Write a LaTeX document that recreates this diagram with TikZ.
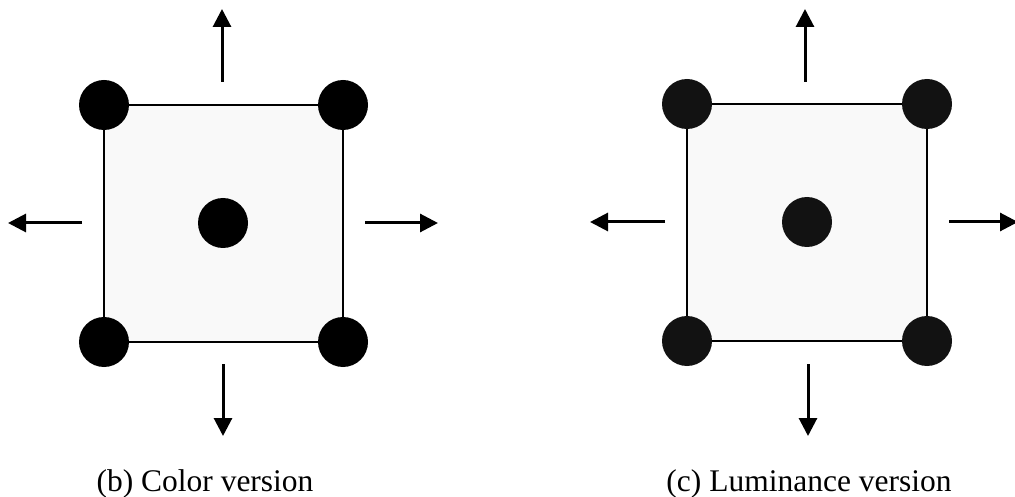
\documentclass[tikz,border=0pt]{standalone}
\usepackage{fontspec}
\setmainfont{Liberation Serif}
\usetikzlibrary{arrows.meta}
\begin{document}
\begin{tikzpicture}[x=1pt,y=-1pt,
  dot/.style={circle,inner sep=0pt,minimum size=50pt,fill=#1},
  frame/.style={line width=2.8pt,fill=black!2.5},
  push/.style={line width=3pt,-{Triangle[length=18pt,width=18pt]}},
  caption/.style={font=\fontsize{31.5}{36}\selectfont,anchor=base}]
\useasboundingbox (0,0) rectangle (1015,497);

% left panel: colour version
\coordinate (btl) at (104,105);
\coordinate (btr) at (343,105);
\coordinate (bbl) at (104,342);
\coordinate (bbr) at (343,342);
\draw[frame] (btl) -- (btr) -- (bbr) -- (bbl) -- cycle;
\node[dot=black] (b1) at (btl) {};
\node[dot=black] (b2) at (btr) {};
\node[dot=black] (b3) at (bbl) {};
\node[dot=black] (b4) at (bbr) {};
\node[dot=black] (bc) at (223,223) {};
\coordinate (bu0) at (222,82);  \coordinate (bu1) at (222,9);
\coordinate (bl0) at (82,223);  \coordinate (bl1) at (8,223);
\coordinate (br0) at (365,223); \coordinate (br1) at (438,223);
\coordinate (bd0) at (223,364); \coordinate (bd1) at (223,436);
\draw[push] (bu0) -- (bu1);
\draw[push] (bl0) -- (bl1);
\draw[push] (br0) -- (br1);
\draw[push] (bd0) -- (bd1);
\node[caption] (bcap) at (205,491) {(b) Color version};

% right panel: luminance version
\coordinate (ctl) at (687,104);
\coordinate (ctr) at (927,104);
\coordinate (cbl) at (687,341);
\coordinate (cbr) at (927,341);
\draw[frame] (ctl) -- (ctr) -- (cbr) -- (cbl) -- cycle;
\node[dot=black!93] (c1) at (ctl) {};
\node[dot=black!93] (c2) at (ctr) {};
\node[dot=black!93] (c3) at (cbl) {};
\node[dot=black!93] (c4) at (cbr) {};
\node[dot=black!93] (cc) at (807,222) {};
\coordinate (cu0) at (805,82);  \coordinate (cu1) at (805,9);
\coordinate (cl0) at (665,222); \coordinate (cl1) at (590,222);
\coordinate (cr0) at (949,222); \coordinate (cr1) at (1018,222);
\coordinate (cd0) at (808,364); \coordinate (cd1) at (808,436);
\draw[push] (cu0) -- (cu1);
\draw[push] (cl0) -- (cl1);
\draw[push] (cr0) -- (cr1);
\draw[push] (cd0) -- (cd1);
\node[caption] (ccap) at (809,491) {(c) Luminance version};
\end{tikzpicture}
\end{document}
